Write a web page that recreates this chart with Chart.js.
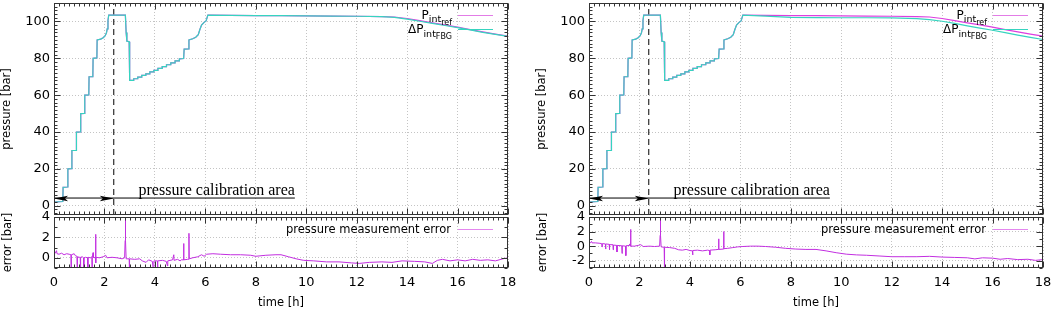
<!DOCTYPE html>
<html>
<head>
<meta charset="utf-8">
<script src="https://cdn.jsdelivr.net/npm/chart.js@4.4.0/dist/chart.umd.min.js"></script>
<style>
  body { margin: 0; background: #fff; }
  #wrap { position: relative; width: 1052px; height: 309px; overflow: hidden; }
  canvas { position: absolute; }
</style>
</head>
<body>
<div id="wrap">
  <canvas id="mainL" width="526" height="216" style="left:0px;top:0px"></canvas>
  <canvas id="errL" width="526" height="113" style="left:0px;top:196px"></canvas>
  <canvas id="mainR" width="517" height="216" style="left:535px;top:0px"></canvas>
  <canvas id="errR" width="517" height="113" style="left:535px;top:196px"></canvas>
</div>
<script>
// pressure curves (time in h, pressure in bar)
const tMain = [0.00,0.20,0.35,0.36,0.54,0.55,0.70,0.71,0.88,0.89,
  1.05,1.06,1.21,1.22,1.38,1.39,1.54,1.55,1.70,1.71,
  1.85,1.95,2.03,2.08,2.11,2.14,2.17,2.83,2.86,2.89,
  2.98,3.00,3.16,3.16,3.32,3.32,3.48,3.48,3.64,3.64,
  3.80,3.80,3.96,3.96,4.12,4.12,4.29,4.29,4.46,4.46,
  4.63,4.63,4.80,4.80,4.97,4.97,5.14,5.16,5.33,5.35,
  5.50,5.62,5.72,5.78,5.85,5.95,6.03,6.10,7,8,
  9,10,11,12,13,13.5,14,14.5,15,15.5,
  16,16.5,17,17.5,18];
const pRef = [2.0,2.2,2.3,10.0,10.2,20.0,20.1,30.0,30.1,40.0,
  40.1,50.0,50.1,60.0,60.1,70.0,70.1,80.0,80.2,90.0,
  90.4,91.2,92.3,93.8,96.0,100.5,103.4,103.4,94.0,89.3,
  89.0,68.0,68.0,68.9,68.9,69.8,69.8,70.7,70.7,71.6,
  71.6,72.6,72.6,73.5,73.5,74.5,74.5,75.5,75.5,76.5,
  76.5,77.5,77.5,78.6,78.6,79.7,79.9,85.0,85.1,90.0,
  90.6,91.4,92.8,95.5,98.0,99.5,100.3,103.4,103.3,103.2,
  103.1,103.0,102.9,102.8,102.6,102.4,101.6,100.4,99.2,98.1,
  96.9,95.6,94.3,93.1,92.0];
const pFbgLeft = [2.0,2.2,2.3,10.0,10.2,20.0,20.1,30.0,30.1,40.0,
  40.1,50.0,50.1,60.0,60.1,70.0,70.1,80.0,80.2,90.0,
  90.4,91.2,92.3,93.8,96.0,100.5,103.4,103.4,94.0,89.3,
  89.0,68.0,68.0,68.9,68.9,69.8,69.8,70.7,70.7,71.6,
  71.6,72.6,72.6,73.5,73.5,74.5,74.5,75.5,75.5,76.5,
  76.5,77.5,77.5,78.6,78.6,79.7,79.9,85.0,85.1,90.0,
  90.6,91.4,92.8,95.5,98.0,99.5,100.3,103.4,103.3,103.2,
  103.1,103.0,102.9,102.8,102.6,102.2,101.3,100.1,98.9,97.8,
  96.6,95.4,94.1,93.0,91.9];
const pFbgRight = [2.0,2.2,2.3,10.0,10.2,20.0,20.1,30.0,30.1,40.0,
  40.1,50.0,50.1,60.0,60.1,70.0,70.1,80.0,80.2,90.0,
  90.4,91.2,92.3,93.8,96.0,100.5,103.4,103.4,94.0,89.3,
  89.0,68.0,68.0,68.9,68.9,69.8,69.8,70.7,70.7,71.6,
  71.6,72.6,72.6,73.5,73.5,74.5,74.5,75.5,75.5,76.5,
  76.5,77.5,77.5,78.6,78.6,79.7,79.9,85.0,85.1,90.0,
  90.6,91.4,92.8,95.5,98.0,99.5,100.3,103.4,102.9,102.2,
  102.1,102.0,102.0,101.9,101.5,101.0,100.1,98.9,97.6,96.4,
  95.2,93.9,92.6,91.4,90.2];

// measurement error (bar)
const tErrLeft = [0.00,0.05,0.10,0.12,0.20,0.30,0.40,0.50,0.60,0.67,
  0.68,0.69,0.80,0.85,0.91,0.92,0.93,1.00,1.04,1.05,
  1.06,1.12,1.17,1.18,1.19,1.25,1.33,1.34,1.35,1.45,
  1.50,1.51,1.52,1.55,1.56,1.64,1.65,1.66,1.67,1.80,
  1.95,2.05,2.10,2.30,2.50,2.70,2.80,2.82,2.83,2.84,
  2.86,2.98,2.99,3.00,3.20,3.40,3.50,3.65,3.75,3.90,
  3.95,3.96,4.10,4.11,4.12,4.30,4.45,4.50,4.51,4.70,
  4.75,4.76,4.90,5.00,5.05,5.13,5.14,5.15,5.30,5.34,
  5.35,5.36,5.50,5.70,5.85,5.95,6.05,6.30,6.60,7.00,
  7.40,7.80,8.00,8.40,8.80,9.00,9.30,9.60,9.90,10.3,
  10.8,11.3,11.8,12.1,12.5,13.0,13.4,13.8,14.3,14.7,
  15.0,15.2,15.4,15.7,16.0,16.3,16.6,16.9,17.2,17.5,
  17.8,18.0];
const errLeft = [0.35,0.45,0.70,0.40,0.35,0.45,0.30,0.40,0.35,0.30,
  -1.5,0.30,0.40,0.20,0.15,-1.5,0.10,0.05,0.05,-1.5,
  0.05,0.10,0.00,-1.5,0.00,0.05,0.00,-1.5,0.05,0.00,
  0.10,-1.5,0.05,0.50,0.05,0.00,2.30,-0.5,0.05,0.00,
  0.10,0.25,0.00,0.05,0.00,-0.10,0.00,1.70,3.90,1.70,
  -0.10,-0.10,-1.5,-0.10,-0.15,-0.10,-0.30,-0.45,-0.20,-0.35,
  -1.5,-0.30,-0.30,-1.5,-0.30,-0.25,-0.35,-0.8,-0.30,-0.20,
  0.30,-0.25,-0.15,-0.30,-0.20,-0.20,1.40,-0.20,-0.15,-0.15,
  2.40,-0.10,0.00,0.10,0.30,0.15,0.35,0.40,0.35,0.30,
  0.30,0.25,0.15,0.25,0.30,0.30,0.10,-0.10,-0.25,-0.30,
  -0.40,-0.40,-0.50,-0.55,-0.45,-0.40,-0.45,-0.30,-0.35,-0.40,
  -0.55,-0.25,-0.15,-0.30,-0.20,-0.30,-0.15,-0.25,-0.20,-0.30,
  -0.10,0.00];
const tErrRight = [0.00,0.05,0.10,0.12,0.25,0.40,0.50,0.52,0.53,0.65,
  0.66,0.67,0.80,0.81,0.82,0.95,0.96,0.97,1.10,1.11,
  1.12,1.30,1.31,1.32,1.45,1.46,1.47,1.60,1.61,1.64,
  1.65,1.66,1.80,1.95,2.05,2.15,2.40,2.60,2.80,2.82,
  2.83,2.84,2.86,2.98,2.99,3.00,3.20,3.40,3.55,3.70,
  3.85,4.00,4.10,4.11,4.12,4.30,4.50,4.70,4.78,4.79,
  4.80,5.00,5.13,5.14,5.15,5.33,5.34,5.35,5.50,5.70,
  5.90,6.10,6.40,6.70,7.00,7.40,7.80,8.20,8.60,9.00,
  9.40,9.80,10.2,10.6,11.0,11.5,12.0,12.5,13.0,13.5,
  14.0,14.5,15.0,15.3,15.6,16.0,16.3,16.6,17.0,17.4,
  17.7,18.0];
const errRight = [0.50,0.45,0.65,0.45,0.45,0.40,0.35,-0.10,0.35,0.30,
  -0.40,0.30,0.25,-0.50,0.20,0.20,-0.50,0.15,0.10,-0.80,
  0.10,0.05,-1.00,0.05,0.00,-1.30,0.05,0.10,0.30,0.00,
  2.30,0.00,0.00,0.10,0.20,-0.05,0.00,-0.05,0.00,1.50,
  3.80,1.50,-0.10,-0.15,-3.50,-0.15,-0.20,-0.30,-0.50,-0.55,
  -0.45,-0.60,-0.65,-1.20,-0.60,-0.55,-0.65,-0.55,-0.60,-1.20,
  -0.55,-0.50,-0.45,1.00,-0.45,-0.40,2.00,-0.35,-0.30,-0.20,
  -0.10,-0.05,0.00,0.00,-0.05,-0.15,-0.30,-0.40,-0.45,-0.45,
  -0.65,-0.90,-1.10,-1.20,-1.25,-1.35,-1.45,-1.45,-1.45,-1.40,
  -1.50,-1.55,-1.60,-1.75,-1.60,-1.65,-1.80,-1.70,-1.85,-1.80,
  -1.95,-1.85];

// tick labels
const timeTicks = [0, 2, 4, 6, 8, 10, 12, 14, 16, 18];
const pressureTicks = [0, 20, 40, 60, 80, 100];
const errTicksLeft = [0, 2, 4];
const errTicksRight = [-2, 0, 2, 4];

// calibration marker
const calibTime = 2.37;
const calibLineEnd = 9.55;
const calibLevel = 4.2;
const calibTextAt = 3.35;
const calibText = 'pressure calibration area';

const MAGENTA = '#dc3ee0';
const CYAN = '#36d4bf';
const ERRC = '#c22ee0';
const FONT = "'DejaVu Sans', sans-serif";

Chart.defaults.color = '#000';
Chart.defaults.font.family = FONT;

function pts(xs, ys) {
  return xs.map((x, i) => ({x: x, y: ys[i]}));
}

function marks(scale, minor, major) {
  const out = [];
  const first = Math.ceil(scale.min / minor - 1e-9);
  const last = Math.floor(scale.max / minor + 1e-9);
  for (let i = first; i <= last; i++) {
    const v = i * minor;
    const r = v / major;
    out.push([v, Math.abs(r - Math.round(r)) < 1e-6]);
  }
  return out;
}

// gnuplot style border with inward ticks on all four sides
const framePlugin = {
  id: 'frame',
  afterDatasetsDraw(chart, args, o) {
    const {ctx, chartArea: a, scales: {x, y}} = chart;
    const L = Math.round(a.left) + 0.5, R = Math.round(a.right) - 0.5;
    const T = Math.round(a.top) + 0.5, B = Math.round(a.bottom) - 0.5;
    ctx.save();
    ctx.strokeStyle = '#333';
    ctx.lineWidth = 1;
    ctx.beginPath();
    marks(x, o.xMinor, o.xMajor).forEach(([v, major]) => {
      const p = Math.round(x.getPixelForValue(v)) + 0.5;
      const len = major ? 6 : 3;
      ctx.moveTo(p, T); ctx.lineTo(p, T + len);
      ctx.moveTo(p, B); ctx.lineTo(p, B - len);
    });
    marks(y, o.yMinor, o.yMajor).forEach(([v, major]) => {
      const p = Math.round(y.getPixelForValue(v)) + 0.5;
      const len = major ? 6 : 3;
      ctx.moveTo(L, p); ctx.lineTo(L + len, p);
      ctx.moveTo(R, p); ctx.lineTo(R - len, p);
    });
    ctx.stroke();
    ctx.strokeRect(L, T, R - L, B - T);
    ctx.restore();
  }
};

// key with subscripts, right aligned inside the plot
const keyPlugin = {
  id: 'key',
  afterDatasetsDraw(chart, args, o) {
    const {ctx, chartArea: a} = chart;
    ctx.save();
    ctx.textAlign = 'left';
    ctx.textBaseline = 'alphabetic';
    o.entries.forEach(e => {
      let w = 0;
      e.parts.forEach(p => { ctx.font = p[1] + 'px ' + FONT; w += ctx.measureText(p[0]).width; });
      let px = a.right - o.textRight - w;
      ctx.fillStyle = '#000';
      e.parts.forEach(p => {
        ctx.font = p[1] + 'px ' + FONT;
        ctx.fillText(p[0], px, a.top + e.base + p[2]);
        px += ctx.measureText(p[0]).width;
      });
      const ly = Math.round(a.top + e.line) + 0.5;
      ctx.strokeStyle = e.color;
      ctx.lineWidth = 1;
      ctx.beginPath();
      ctx.moveTo(a.right - 50, ly);
      ctx.lineTo(a.right - 15, ly);
      ctx.stroke();
    });
    ctx.restore();
  }
};

function arrowHead(ctx, tx, ty, dir) {
  ctx.beginPath();
  ctx.moveTo(tx, ty);
  ctx.lineTo(tx + dir * 14, ty - 2.8);
  ctx.lineTo(tx + dir * 11, ty);
  ctx.lineTo(tx + dir * 14, ty + 2.8);
  ctx.closePath();
  ctx.fill();
}

const calibPlugin = {
  id: 'calib',
  afterDatasetsDraw(chart) {
    const {ctx, scales: {x, y}} = chart;
    const py = Math.round(y.getPixelForValue(calibLevel)) + 0.5;
    ctx.save();
    ctx.fillStyle = '#000';
    arrowHead(ctx, x.getPixelForValue(0), py, 1);
    arrowHead(ctx, x.getPixelForValue(calibTime), py, -1);
    ctx.font = "16px 'Liberation Serif', serif";
    ctx.textAlign = 'left';
    ctx.textBaseline = 'alphabetic';
    ctx.fillText(calibText, x.getPixelForValue(calibTextAt), py - 4);
    ctx.restore();
  }
};

const gridOpts = { color: '#c4c4c4', lineWidth: 1, drawTicks: false };
const gridBorder = { display: false, dash: [1, 2] };

function mainChart(id, fbg, padRight) {
  return new Chart(document.getElementById(id), {
    type: 'line',
    data: {
      datasets: [
        { data: pts(tMain, fbg), borderColor: CYAN, borderWidth: 1.2, order: 0 },
        { data: pts(tMain, pRef), borderColor: MAGENTA, borderWidth: 1.2, order: 1 },
        { data: [{x: calibTime, y: -5}, {x: calibTime, y: 110}], borderColor: '#000',
          borderWidth: 1, borderDash: [6, 4], order: 2 },
        { data: [{x: 0, y: calibLevel}, {x: calibLineEnd, y: calibLevel}], borderColor: '#000',
          borderWidth: 1, order: 3 }
      ]
    },
    options: {
      responsive: false,
      animation: false,
      devicePixelRatio: 1,
      layout: { padding: { top: 3, right: padRight, bottom: 1, left: 0 } },
      elements: { point: { radius: 0 }, line: { tension: 0, fill: false } },
      plugins: {
        legend: { display: false },
        tooltip: { enabled: false },
        frame: { xMinor: 0.2, xMajor: 2, yMinor: 2, yMajor: 20 },
        key: {
          textRight: 56,
          entries: [
            { parts: [['P', 12, 0], ['int', 9.5, 3.5], ['ref', 8, 6]], base: 15.5, line: 12, color: '#e27ce6' },
            { parts: [['ΔP', 12, 0], ['int', 9.5, 3.2], ['FBG', 8, 5.2]], base: 30.3, line: 26.3, color: CYAN }
          ]
        }
      },
      scales: {
        x: {
          type: 'linear', min: 0, max: 18,
          afterBuildTicks: s => { s.ticks = timeTicks.map(v => ({value: v})); },
          ticks: { display: false, autoSkip: false },
          grid: gridOpts,
          border: gridBorder,
          afterFit: s => { s.height = 0; s.paddingLeft = 0; s.paddingRight = 0; }
        },
        y: {
          type: 'linear', min: -5, max: 110,
          afterBuildTicks: s => { s.ticks = pressureTicks.map(v => ({value: v})); },
          ticks: { font: { size: 13 }, padding: 4, autoSkip: false },
          grid: gridOpts,
          border: gridBorder,
          title: { display: true, text: 'pressure [bar]', font: { size: 11.5 }, padding: 0 },
          afterFit: s => { s.width = 54; s.paddingTop = 0; s.paddingBottom = 0; }
        }
      }
    },
    plugins: [framePlugin, keyPlugin, calibPlugin]
  });
}

function errChart(id, ts, vs, ymin, yTicks, padRight) {
  return new Chart(document.getElementById(id), {
    type: 'line',
    data: {
      datasets: [
        { data: pts(ts, vs), borderColor: ERRC, borderWidth: 1 }
      ]
    },
    options: {
      responsive: false,
      animation: false,
      devicePixelRatio: 1,
      layout: { padding: { top: 21, right: padRight, bottom: 0, left: 0 } },
      elements: { point: { radius: 0 }, line: { tension: 0, fill: false } },
      plugins: {
        legend: { display: false },
        tooltip: { enabled: false },
        frame: { xMinor: 0.2, xMajor: 2, yMinor: 1, yMajor: 2 },
        key: {
          textRight: 57,
          entries: [
            { parts: [['pressure measurement error', 11.5, 0]], base: 15.5, line: 11.5, color: '#e486ee' }
          ]
        }
      },
      scales: {
        x: {
          type: 'linear', min: 0, max: 18,
          afterBuildTicks: s => { s.ticks = timeTicks.map(v => ({value: v})); },
          ticks: { font: { size: 13 }, padding: 7, maxRotation: 0, autoSkip: false },
          grid: gridOpts,
          border: gridBorder,
          title: { display: true, text: 'time [h]', font: { size: 11.5 }, padding: { top: 0, bottom: -1 } },
          afterFit: s => { s.height = 41; s.paddingLeft = 0; s.paddingRight = 0; }
        },
        y: {
          type: 'linear', min: ymin, max: 4,
          afterBuildTicks: s => { s.ticks = yTicks.map(v => ({value: v})); },
          ticks: { font: { size: 13 }, padding: 4, autoSkip: false },
          grid: gridOpts,
          border: gridBorder,
          title: { display: true, text: 'error [bar]', font: { size: 11.5 }, padding: { top: 1, bottom: 0 } },
          afterFit: s => { s.width = 54; s.paddingTop = 0; s.paddingBottom = 0; }
        }
      }
    },
    plugins: [framePlugin, keyPlugin]
  });
}

mainChart('mainL', pFbgLeft, 18);
errChart('errL', tErrLeft, errLeft, -1, errTicksLeft, 18);
mainChart('mainR', pFbgRight, 9);
errChart('errR', tErrRight, errRight, -3, errTicksRight, 9);
</script>
</body>
</html>
